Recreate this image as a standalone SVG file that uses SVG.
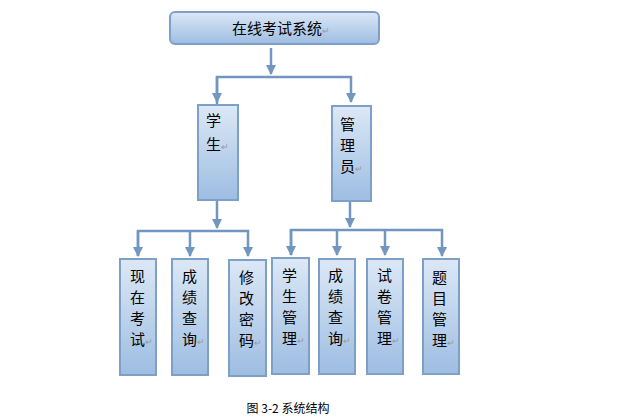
<svg xmlns="http://www.w3.org/2000/svg" width="624" height="420" viewBox="0 0 624 420">
<defs>
<linearGradient id="g" x1="0" y1="0" x2="0" y2="1"><stop offset="0" stop-color="#dce8f6"/><stop offset="1" stop-color="#9dbde2"/></linearGradient>
<marker id="a" viewBox="0 0 10 10" refX="9" refY="5" markerWidth="4" markerHeight="4" orient="auto"><path d="M0,0L10,5L0,10z" fill="#7196c0"/></marker>
</defs>
<style>
.b{fill:url(#g);stroke:#7e9fc6;stroke-width:2}
.t{font-family:"Noto Sans CJK SC","Liberation Sans",sans-serif;font-size:15px;fill:#000}
.r{font-family:"Liberation Sans",sans-serif;font-size:9px;fill:#999}
.c{fill:none;stroke:#7196c0;stroke-width:2.5}
</style>
<rect width="624" height="420" fill="#fff"/>
<g id="connectors">
<path class="c" d="M271,48V74" marker-end="url(#a)"/>
<path class="c" d="M217,104V77H351V102" marker-end="url(#a)"/>
<path class="c" d="M217,77V102" marker-end="url(#a)"/>
<path class="c" d="M217,201V228" marker-end="url(#a)"/>
<path class="c" d="M138,256V231H248V256" marker-end="url(#a)"/>
<path class="c" d="M138,231V256" marker-end="url(#a)"/>
<path class="c" d="M190,231V256" marker-end="url(#a)"/>
<path class="c" d="M350,202V227" marker-end="url(#a)"/>
<path class="c" d="M291,255V230H442V256" marker-end="url(#a)"/>
<path class="c" d="M291,230V255" marker-end="url(#a)"/>
<path class="c" d="M337,230V255" marker-end="url(#a)"/>
<path class="c" d="M385,230V255" marker-end="url(#a)"/>
</g>
<g id="root"><rect class="b" x="170" y="12" width="209" height="32" rx="5"/><text class="t" x="232" y="34">在线考试系统<tspan class="r">↵</tspan></text></g>
<g id="student"><rect class="b" x="198" y="105" width="40" height="95"/><text class="t" x="206" y="126">学</text><text class="t" x="206" y="150">生<tspan class="r">↵</tspan></text></g>
<g id="admin"><rect class="b" x="332" y="106" width="39" height="95"/><text class="t" x="340" y="130">管</text><text class="t" x="340" y="151">理</text><text class="t" x="340" y="172">员<tspan class="r">↵</tspan></text></g>
<g id="n1"><rect class="b" x="120" y="259" width="36" height="116"/><text class="t" x="130" y="282">现</text><text class="t" x="130" y="303">在</text><text class="t" x="130" y="324">考</text><text class="t" x="130" y="345">试<tspan class="r">↵</tspan></text></g>
<g id="n2"><rect class="b" x="172" y="259" width="36" height="116"/><text class="t" x="182" y="282">成</text><text class="t" x="182" y="303">绩</text><text class="t" x="182" y="324">查</text><text class="t" x="182" y="345">询<tspan class="r">↵</tspan></text></g>
<g id="n3"><rect class="b" x="229" y="260" width="37" height="116"/><text class="t" x="239" y="283">修</text><text class="t" x="239" y="304">改</text><text class="t" x="239" y="325">密</text><text class="t" x="239" y="346">码<tspan class="r">↵</tspan></text></g>
<g id="n4"><rect class="b" x="272" y="258" width="37" height="116"/><text class="t" x="282" y="281">学</text><text class="t" x="282" y="302">生</text><text class="t" x="282" y="323">管</text><text class="t" x="282" y="344">理<tspan class="r">↵</tspan></text></g>
<g id="n5"><rect class="b" x="319" y="259" width="36" height="115"/><text class="t" x="328" y="281">成</text><text class="t" x="328" y="302">绩</text><text class="t" x="328" y="323">查</text><text class="t" x="328" y="344">询<tspan class="r">↵</tspan></text></g>
<g id="n6"><rect class="b" x="367" y="259" width="36" height="115"/><text class="t" x="377" y="281">试</text><text class="t" x="377" y="302">卷</text><text class="t" x="377" y="323">管</text><text class="t" x="377" y="344">理<tspan class="r">↵</tspan></text></g>
<g id="n7"><rect class="b" x="423" y="259" width="36" height="115"/><text class="t" x="432" y="283">题</text><text class="t" x="432" y="304">目</text><text class="t" x="432" y="325">管</text><text class="t" x="432" y="346">理<tspan class="r">↵</tspan></text></g>
<text x="288" y="413" text-anchor="middle" font-family="'Noto Sans CJK SC',sans-serif" font-size="12">图 3-2 系统结构</text>
</svg>
